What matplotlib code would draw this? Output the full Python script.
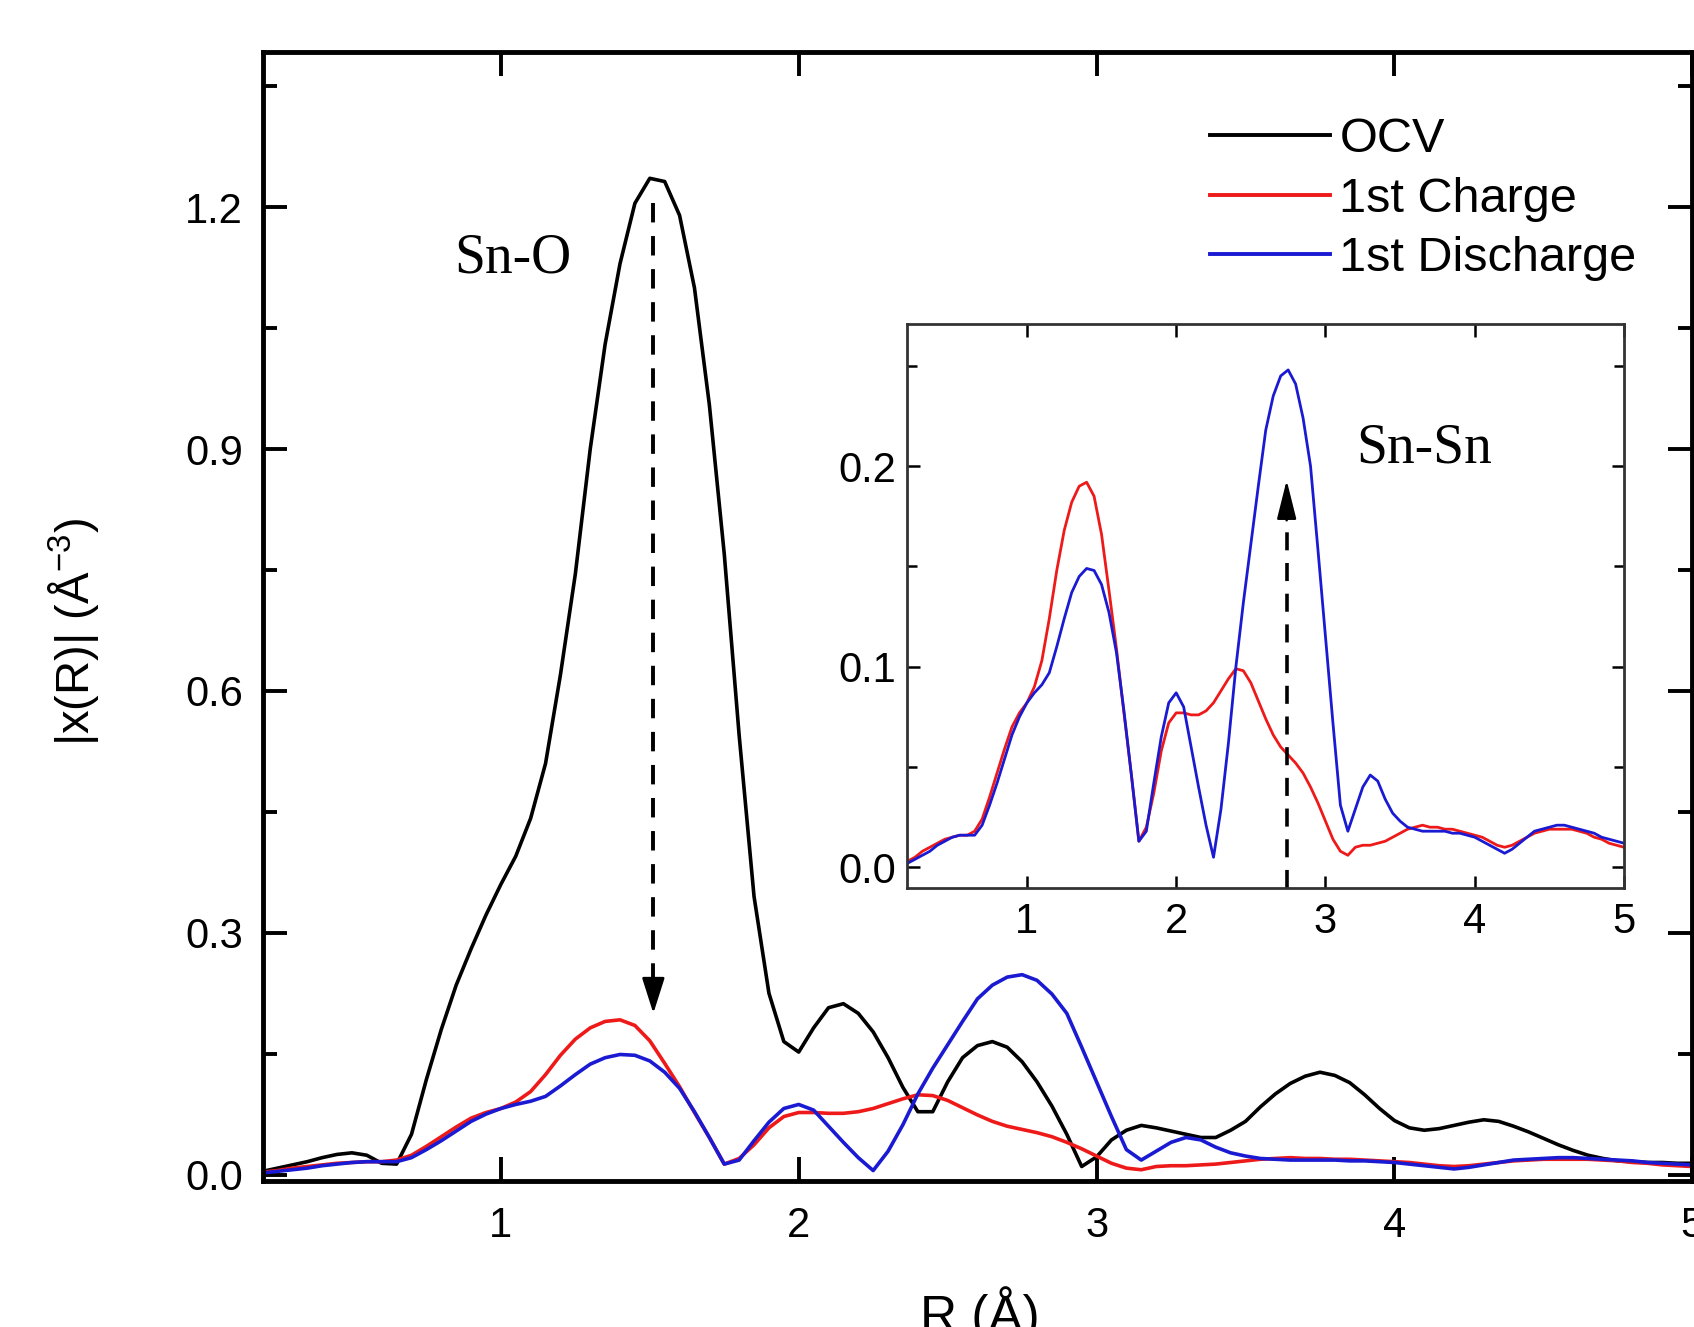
import numpy as np
import matplotlib
matplotlib.use("Agg")
import matplotlib.pyplot as plt
from matplotlib.ticker import MultipleLocator, FormatStrFormatter

# EXAFS |x(R)|, R grid in Angstrom (0.05 step)
r = np.round(np.arange(0.20, 5.0001, 0.05), 2)

ocv = [0.004, 0.008, 0.012, 0.016, 0.021, 0.025, 0.027, 0.024, 0.014, 0.013,
       0.050, 0.118, 0.180, 0.235, 0.280, 0.322, 0.360, 0.395, 0.442, 0.510,
       0.620, 0.745, 0.900, 1.030, 1.130, 1.205, 1.236, 1.232, 1.190, 1.100,
       0.955, 0.770, 0.545, 0.345, 0.225, 0.165, 0.152, 0.182, 0.207, 0.212,
       0.200, 0.177, 0.145, 0.108, 0.078, 0.078, 0.115, 0.145, 0.160, 0.165,
       0.158, 0.140, 0.115, 0.085, 0.050, 0.010, 0.022, 0.043, 0.055, 0.061,
       0.058, 0.054, 0.050, 0.046, 0.046, 0.055, 0.066, 0.084, 0.100, 0.113,
       0.122, 0.127, 0.123, 0.114, 0.099, 0.082, 0.067, 0.058, 0.055, 0.057,
       0.061, 0.065, 0.068, 0.066, 0.060, 0.053, 0.045, 0.037, 0.030, 0.024,
       0.020, 0.017, 0.016, 0.015, 0.015, 0.014, 0.014]

charge = [0.003, 0.005, 0.008, 0.010, 0.012, 0.014, 0.015, 0.016, 0.016, 0.018,
          0.024, 0.035, 0.047, 0.059, 0.070, 0.077, 0.082, 0.090, 0.103, 0.124,
          0.148, 0.168, 0.182, 0.190, 0.192, 0.185, 0.166, 0.138, 0.109, 0.077,
          0.046, 0.013, 0.020, 0.037, 0.058, 0.072, 0.077, 0.077, 0.076, 0.076,
          0.078, 0.082, 0.088, 0.094, 0.099, 0.098, 0.092, 0.083, 0.074, 0.066,
          0.060, 0.056, 0.052, 0.047, 0.040, 0.032, 0.023, 0.014, 0.008, 0.006,
          0.010, 0.011, 0.011, 0.012, 0.013, 0.015, 0.017, 0.019, 0.020, 0.021,
          0.020, 0.020, 0.019, 0.019, 0.018, 0.017, 0.016, 0.015, 0.013, 0.011,
          0.010, 0.011, 0.013, 0.015, 0.017, 0.018, 0.019, 0.019, 0.019, 0.019,
          0.018, 0.017, 0.015, 0.014, 0.012, 0.011, 0.010]

discharge = [0.002, 0.004, 0.006, 0.008, 0.011, 0.013, 0.015, 0.016, 0.016, 0.016,
             0.021, 0.031, 0.042, 0.054, 0.066, 0.075, 0.082, 0.087, 0.091, 0.097,
             0.110, 0.124, 0.137, 0.145, 0.149, 0.148, 0.141, 0.127, 0.107, 0.078,
             0.046, 0.013, 0.018, 0.042, 0.065, 0.082, 0.087, 0.080, 0.060, 0.040,
             0.021, 0.005, 0.029, 0.062, 0.100, 0.132, 0.161, 0.190, 0.218, 0.235,
             0.245, 0.248, 0.241, 0.224, 0.200, 0.158, 0.115, 0.072, 0.031, 0.018,
             0.029, 0.040, 0.046, 0.043, 0.034, 0.027, 0.023, 0.020, 0.019, 0.018,
             0.018, 0.018, 0.018, 0.017, 0.017, 0.016, 0.015, 0.013, 0.011, 0.009,
             0.007, 0.009, 0.012, 0.015, 0.018, 0.019, 0.020, 0.021, 0.021, 0.020,
             0.019, 0.018, 0.017, 0.015, 0.014, 0.013, 0.012]

labels = ["OCV", "1st Charge", "1st Discharge"]
colors = ["black", "#ee1a1a", "#1a1ad2"]

sans = ["Liberation Sans", "DejaVu Sans"]
serif = "Liberation Serif"
plt.rcParams["font.family"] = sans
plt.rcParams["mathtext.fontset"] = "custom"
plt.rcParams["mathtext.rm"] = "Liberation Sans"

fig = plt.figure(figsize=(16.94, 13.27), dpi=100)
ax = fig.add_axes([0.155, 0.110, 0.844, 0.851])

for y, lab, c in zip([ocv, charge, discharge], labels, colors):
    ax.plot(r, y, color=c, lw=2.6, label=lab, solid_joinstyle="round")

ax.set_xlim(0.2, 5.0)
ax.set_ylim(-0.008, 1.393)
ax.xaxis.set_major_locator(MultipleLocator(1))
ax.yaxis.set_major_locator(MultipleLocator(0.3))
ax.yaxis.set_minor_locator(MultipleLocator(0.15))
ax.yaxis.set_major_formatter(FormatStrFormatter("%.1f"))
ax.tick_params(which="both", direction="in", top=True, right=True, width=2.8, labelsize=30)
ax.tick_params(which="major", length=17)
ax.tick_params(which="minor", length=10)
ax.tick_params(axis="y", pad=14)
ax.tick_params(axis="x", pad=18)
for s in ax.spines.values():
    s.set_linewidth(3.5)

ax.set_xlabel("R (Å)", fontsize=37)
ax.xaxis.set_label_coords(0.502, -0.093)
ax.set_ylabel("|x(R)| (Å$^{-3}$)", fontsize=34)
ax.yaxis.set_label_coords(-0.113, 0.486)

leg = ax.legend(loc="upper left", bbox_to_anchor=(0.663, 0.942), frameon=False,
                fontsize=35, handlelength=2.45, handletextpad=0.2,
                labelspacing=0.3, borderpad=0, borderaxespad=0)
for h in leg.get_lines():
    h.set_linewidth(2.8)

ax.text(1.04, 1.136, "Sn-O", family=serif, fontsize=40, ha="center", va="center")

# dashed arrow down on Sn-O peak
arrow_x, arrow_top, arrow_tip = 1.512, 1.205, 0.20
ax.plot([arrow_x, arrow_x], [arrow_top, arrow_tip + 0.03], color="k", lw=2.8,
        dashes=(5, 3.5))
ax.annotate("", xy=(arrow_x, arrow_tip), xytext=(arrow_x, arrow_tip + 0.04),
            arrowprops=dict(arrowstyle="-|>,head_length=1.1,head_width=0.35",
                            color="k", lw=2.0, mutation_scale=20,
                            shrinkA=0, shrinkB=0))

# inset
ins = fig.add_axes([0.5357, 0.331, 0.423, 0.425])
for y, c in zip([charge, discharge], colors[1:]):
    ins.plot(r, y, color=c, lw=2.0, solid_joinstyle="round")
ins.set_xlim(0.2, 5.0)
ins.set_ylim(-0.0102, 0.271)
ins.xaxis.set_major_locator(MultipleLocator(1))
ins.yaxis.set_major_locator(MultipleLocator(0.1))
ins.yaxis.set_minor_locator(MultipleLocator(0.05))
ins.yaxis.set_major_formatter(FormatStrFormatter("%.1f"))
ins.tick_params(which="both", direction="in", top=True, right=True, width=1.8, labelsize=30)
ins.tick_params(which="major", length=9)
ins.tick_params(which="minor", length=7)
ins.tick_params(axis="y", pad=8)
ins.tick_params(axis="x", pad=10)
for s in ins.spines.values():
    s.set_linewidth(2.0)
    s.set_color("#333333")

ins.text(3.66, 0.209, "Sn-Sn", family=serif, fontsize=40, ha="center", va="center")

in_x, in_tip = 2.74, 0.193
ins.plot([in_x, in_x], [-0.0102, in_tip - 0.014], color="k", lw=2.6, dashes=(5, 3.5))
ins.annotate("", xy=(in_x, in_tip), xytext=(in_x, in_tip - 0.02),
             arrowprops=dict(arrowstyle="-|>,head_length=1.2,head_width=0.3",
                             color="k", lw=1.8, mutation_scale=20,
                             shrinkA=0, shrinkB=0))

fig.savefig("out.png", dpi=100)
